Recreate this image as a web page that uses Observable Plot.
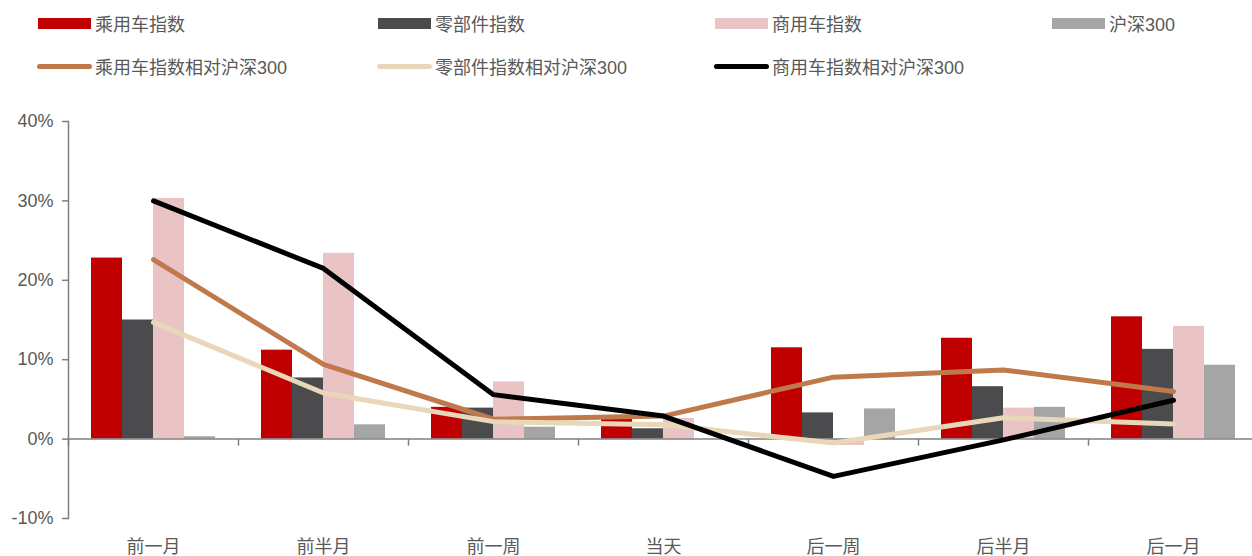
<!DOCTYPE html>
<html>
<head>
<meta charset="utf-8">
<script src="https://cdn.jsdelivr.net/npm/d3@7"></script>
<script src="https://cdn.jsdelivr.net/npm/@observablehq/plot@0.6"></script>
<style>
  html, body { margin: 0; padding: 0; background: #fff; overflow: hidden; }
  #wrap { position: relative; width: 1258px; height: 556px; font-family: "Liberation Sans", "Noto Sans CJK SC", sans-serif; color: #595959; }
  #legend { position: absolute; left: 0; top: 0; width: 1252px; height: 100px; }
  .item { position: absolute; display: flex; align-items: center; font-size: 18px; white-space: nowrap; height: 24px; }
  .sw-rect { width: 53px; height: 11px; margin-right: 4px; }
  .sw-line { width: 55px; height: 5px; border-radius: 3px; margin-right: 3px; }
  #chart { position: absolute; left: 0; top: 100px; }
</style>
</head>
<body>
<div id="wrap">
  <div id="legend"></div>
  <div id="chart"></div>
</div>
<script>
const categories = ["前一月", "前半月", "前一周", "当天", "后一周", "后半月", "后一月"];
const passenger = [22.8, 11.2, 4.0, 2.6, 11.5, 12.7, 15.4];
const parts = [15.0, 7.7, 3.9, 1.3, 3.3, 6.6, 11.3];
const commercial = [30.3, 23.4, 7.2, 2.6, -0.8, 3.9, 14.2];
const hs300 = [0.3, 1.8, 1.5, 0.0, 3.8, 4.0, 9.3];
const passengerRel = [22.6, 9.4, 2.5, 2.9, 7.8, 8.7, 6.0];
const partsRel = [14.7, 5.8, 2.2, 1.8, -0.5, 2.7, 1.9];
const commercialRel = [30.0, 21.5, 5.6, 2.9, -4.7, -0.1, 4.9];
const yTicks = [-10, 0, 10, 20, 30, 40];

const barSeries = [
  {name: "乘用车指数", values: passenger, color: "#C00000"},
  {name: "零部件指数", values: parts, color: "#4B4B4D"},
  {name: "商用车指数", values: commercial, color: "#EAC3C4"},
  {name: "沪深300", values: hs300, color: "#A5A5A5"}
];
const lineSeries = [
  {name: "乘用车指数相对沪深300", values: passengerRel, color: "#C0794A"},
  {name: "零部件指数相对沪深300", values: partsRel, color: "#E8D7B8"},
  {name: "商用车指数相对沪深300", values: commercialRel, color: "#000000"}
];

// Legend
const legend = document.getElementById("legend");
const colX = [38, 378, 715, 1052];
barSeries.forEach((s, i) => {
  const d = document.createElement("div");
  d.className = "item";
  d.style.left = colX[i] + "px";
  d.style.top = "11px";
  d.innerHTML = `<span class="sw-rect" style="background:${s.color}"></span><span>${s.name}</span>`;
  legend.appendChild(d);
});
lineSeries.forEach((s, i) => {
  const d = document.createElement("div");
  d.className = "item";
  d.style.left = (colX[i] - 1) + "px";
  d.style.top = "54px";
  d.innerHTML = `<span class="sw-line" style="background:${s.color}"></span><span>${s.name}</span>`;
  legend.appendChild(d);
});

// Chart
const width = 1258, height = 456, marginLeft = 68, marginRight = 0;
const bw = (width - marginLeft - marginRight) / categories.length;
const barW = 31;
const groupLeft = (bw - barW * 4) / 2;

const marks = [];
barSeries.forEach((s, k) => {
  const rows = categories.map((c, i) => ({cat: c, v: s.values[i]}));
  marks.push(Plot.barY(rows, {
    x: "cat", y: "v", fill: s.color,
    insetLeft: groupLeft + barW * k,
    insetRight: bw - groupLeft - barW * (k + 1)
  }));
});
marks.push(Plot.ruleY([0], {stroke: "#7F7F7F", strokeWidth: 1.5}));
marks.push(Plot.ruleX(categories, {x: d => d, y1: 0, y2: 0, insetBottom: -7, dx: -bw / 2, stroke: "#7F7F7F", strokeWidth: 1.5}));
marks.push(Plot.frame({anchor: "left", stroke: "#7F7F7F", strokeWidth: 1.5}));
lineSeries.forEach(s => {
  const rows = categories.map((c, i) => ({cat: c, v: s.values[i]}));
  marks.push(Plot.line(rows, {
    x: "cat", y: "v", stroke: s.color, strokeWidth: 5,
    strokeLinecap: "round", strokeLinejoin: "round"
  }));
});
marks.push(Plot.axisY(yTicks, {
  tickFormat: d => d + "%", tickSize: 6, tickPadding: 9,
  stroke: "#7F7F7F", strokeWidth: 1.5, fill: "#595959", fontSize: 18
}));
marks.push(Plot.axisX({
  tickSize: 0, tickPadding: 22, fill: "#595959", fontSize: 18
}));

const chart = Plot.plot({
  width, height, marginLeft, marginRight, marginTop: 21, marginBottom: 38,
  style: {fontFamily: '"Liberation Sans", "Noto Sans CJK SC", sans-serif', color: "#595959", background: "white", overflow: "visible"},
  x: {type: "band", domain: categories, padding: 0, label: null},
  y: {domain: [-10, 40], label: null},
  marks
});
document.getElementById("chart").appendChild(chart);
</script>
</body>
</html>
